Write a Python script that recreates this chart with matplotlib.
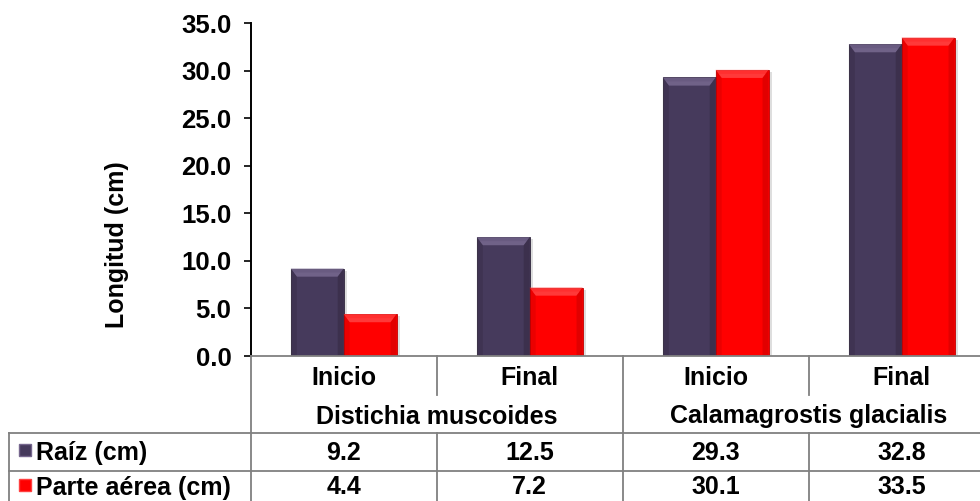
import matplotlib
matplotlib.use("Agg")
import matplotlib.pyplot as plt
from matplotlib.patches import Polygon, Rectangle
from matplotlib.lines import Line2D
from matplotlib.transforms import blended_transform_factory

# ---- data ----
stages = ["Inicio", "Final", "Inicio", "Final"]
species = ["Distichia muscoides", "Calamagrostis glacialis"]
series_names = ["Raíz (cm)", "Parte aérea (cm)"]
raiz = [9.2, 12.5, 29.3, 32.8]
parte_aerea = [4.4, 7.2, 30.1, 33.5]
yticks = [0.0, 5.0, 10.0, 15.0, 20.0, 25.0, 30.0, 35.0]

# ---- style ----
plt.rcParams["font.family"] = ["Liberation Sans", "DejaVu Sans"]
plt.rcParams["font.weight"] = "bold"
FS = 18
W, H = 980, 501
PURPLE = "#463a5c"
PURPLE_HI = "#76678e"
PURPLE_LO = "#30263c"
RED = "#ff0000"
RED_HI = "#ff4040"
RED_LO = "#c00000"
GRID = "#808080"

fig = plt.figure(figsize=(W / 100, H / 100), dpi=100)

# plot area in pixel units
x_left, x_right = 250.7, 980.0
y_top, y_base = 23.3, 356.0
cat_w = 186.0  # pixels per category


def fx(px):
    return px / W


def fy(py):
    return 1 - py / H


ax = fig.add_axes([fx(x_left), fy(y_base), fx(x_right) - fx(x_left), fy(y_top) - fy(y_base)])
ax.set_xlim(-0.5, -0.5 + (x_right - x_left) / cat_w)
ax.set_ylim(0, 35)

# bars with bevel
bw = 0.284
xs = list(range(len(stages)))
px_x = 1.0 / cat_w                    # one pixel in x data units
px_y = 35.0 / (y_base - y_top)        # one pixel in y data units
dx = 6.0 * px_x
dy = 8.0 * px_y


def bevel_bar(x0, h, base, hi, lo):
    # soft shadow on the right
    ax.add_patch(Rectangle((x0 + 3.5 * px_x, 0), bw, h - 2 * px_y, facecolor="#000000",
                           alpha=0.13, edgecolor="none", zorder=1))
    ax.add_patch(Rectangle((x0, 0), bw, h, facecolor=base, edgecolor=lo, lw=0.6, zorder=2))
    # top highlight with a two-step gradient
    ax.add_patch(Polygon([(x0, h), (x0 + bw, h), (x0 + bw - dx, h - dy), (x0 + dx, h - dy)],
                         closed=True, facecolor=hi, edgecolor="none", alpha=0.75, zorder=3))
    ax.add_patch(Polygon([(x0 + 0.5 * dx, h - 0.5 * dy), (x0 + bw - 0.5 * dx, h - 0.5 * dy),
                          (x0 + bw - dx, h - dy), (x0 + dx, h - dy)],
                         closed=True, facecolor=hi, edgecolor="none", alpha=0.6, zorder=3))
    # side edges
    ax.add_patch(Polygon([(x0, h), (x0 + dx, h - dy), (x0 + dx, 0), (x0, 0)],
                         closed=True, facecolor=lo, alpha=0.3, edgecolor="none", zorder=3))
    ax.add_patch(Polygon([(x0 + bw, h), (x0 + bw - dx, h - dy), (x0 + bw - dx, 0), (x0 + bw, 0)],
                         closed=True, facecolor=lo, alpha=0.45, edgecolor="none", zorder=3))


for i in xs:
    bevel_bar(i - bw, raiz[i], PURPLE, PURPLE_HI, PURPLE_LO)
    bevel_bar(i, parte_aerea[i], RED, RED_HI, RED_LO)

# axes styling
for s in ["top", "right", "bottom"]:
    ax.spines[s].set_visible(False)
ax.spines["left"].set_linewidth(1.4)
ax.spines["left"].set_color("black")
ax.set_xticks([])
ax.set_yticks(yticks)
ax.set_yticklabels([f"{v:.1f}" for v in yticks], fontsize=FS + 0.5, fontweight="bold")
ax.tick_params(axis="y", length=5, width=1.2, pad=9, direction="out")
ax.set_ylabel("Longitud (cm)", fontsize=FS, fontweight="bold")
ax.yaxis.set_label_coords(fx(117), fy(244.5), transform=fig.transFigure)
ax.yaxis.label.set_va("center")

# ---- data table below the plot ----
bt = blended_transform_factory(ax.transData, fig.transFigure)


def hline(py, x0, x1):
    fig.add_artist(Line2D([fx(x0), fx(x1)], [fy(py), fy(py)], color=GRID, lw=1.3,
                          transform=fig.transFigure))


def vline_data(xd, py0, py1):
    fig.add_artist(Line2D([xd, xd], [fy(py0), fy(py1)], color=GRID, lw=1.3, transform=bt))


row_y = [356.0, 394.5, 433.0, 471.0, 509.0]
hline(row_y[0], x_left, W)
hline(row_y[2], 9, W)
hline(row_y[3], 9, W)
fig.add_artist(Line2D([fx(9), fx(9)], [fy(row_y[2]), fy(H)], color=GRID, lw=1.3,
                      transform=fig.transFigure))
vline_data(-0.5, row_y[0], H)
vline_data(1.5, row_y[0], H)
for xd in (0.5, 2.5):
    vline_data(xd, row_y[0], row_y[1])
    vline_data(xd, row_y[2], H)

baselines = [385.0, 423.5, 460.0, 494.5]
for i, lab in enumerate(stages):
    fig.text(i, fy(baselines[0]), lab, transform=bt, ha="center", va="baseline",
             fontsize=FS, fontweight="bold")
for g, lab in enumerate(species):
    fig.text(2 * g + 0.5, fy(baselines[1]), lab, transform=bt, ha="center", va="baseline",
             fontsize=FS, fontweight="bold")

for r, (name, vals, base, hi) in enumerate([(series_names[0], raiz, PURPLE, PURPLE_HI),
                                             (series_names[1], parte_aerea, RED, RED_HI)]):
    yb = baselines[2 + r]
    # legend key
    ky = yb - 16
    fig.add_artist(Rectangle((fx(19), fy(ky + 12)), fx(12), fy(ky) - fy(ky + 12),
                             facecolor=base, edgecolor=hi, lw=1.0, transform=fig.transFigure))
    fig.text(fx(36), fy(yb), name, ha="left", va="baseline", fontsize=FS, fontweight="bold")
    for i, v in enumerate(vals):
        fig.text(i, fy(yb), f"{v:.1f}", transform=bt, ha="center", va="baseline",
                 fontsize=FS, fontweight="bold")

fig.savefig("out.png", dpi=100, facecolor="white")
